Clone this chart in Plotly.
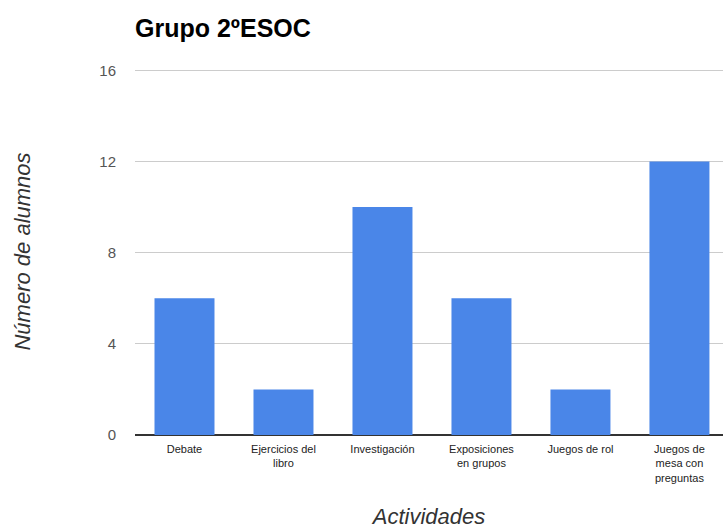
import plotly.graph_objects as go

# Actividades preferidas del grupo 2ºESOC
actividades = [
    "Debate",
    "Ejercicios del<br>libro",
    "Investigación",
    "Exposiciones<br>en grupos",
    "Juegos de rol",
    "Juegos de<br>mesa con<br>preguntas",
]
alumnos = [6, 2, 10, 6, 2, 12]
y_ticks = [0, 4, 8, 12, 16]

fig = go.Figure(
    go.Bar(
        x=list(range(len(actividades))),
        y=alumnos,
        marker=dict(color="#4a86e8", line=dict(width=0)),
        hoverinfo="y",
    )
)

fig.update_layout(
    width=723,
    height=529,
    margin=dict(l=135, r=0, t=68, b=94),
    paper_bgcolor="white",
    plot_bgcolor="white",
    font=dict(family="Liberation Sans, Arial, sans-serif"),
    bargap=0.394,
    showlegend=False,
    title=dict(
        text="<b>Grupo 2ºESOC</b>",
        x=135 / 723,
        xanchor="left",
        y=1 - 28 / 529,
        yanchor="middle",
        font=dict(size=25, color="#000000"),
    ),
)

fig.update_xaxes(
    tickmode="array",
    tickvals=list(range(len(actividades))),
    ticktext=actividades,
    range=[-0.5, 5.44],
    tickfont=dict(size=11, color="#222222"),
    ticks="",
    ticklabelstandoff=6,
    showgrid=False,
    showline=False,
    zeroline=False,
    title=dict(
        text="<i>Actividades</i>",
        font=dict(size=22, color="#333333"),
        standoff=28,
    ),
)

fig.update_yaxes(
    range=[0, 16.1],
    tickmode="array",
    tickvals=y_ticks,
    tickfont=dict(size=15, color="#555555"),
    ticks="",
    ticklabelstandoff=18,
    showgrid=True,
    gridcolor="#cccccc",
    gridwidth=1,
    zeroline=True,
    zerolinecolor="#333333",
    zerolinewidth=2,
    showline=False,
    title=dict(
        text="<i>Número de alumnos</i>",
        font=dict(size=22, color="#333333"),
        standoff=62,
    ),
)

fig.write_html("out.html")
